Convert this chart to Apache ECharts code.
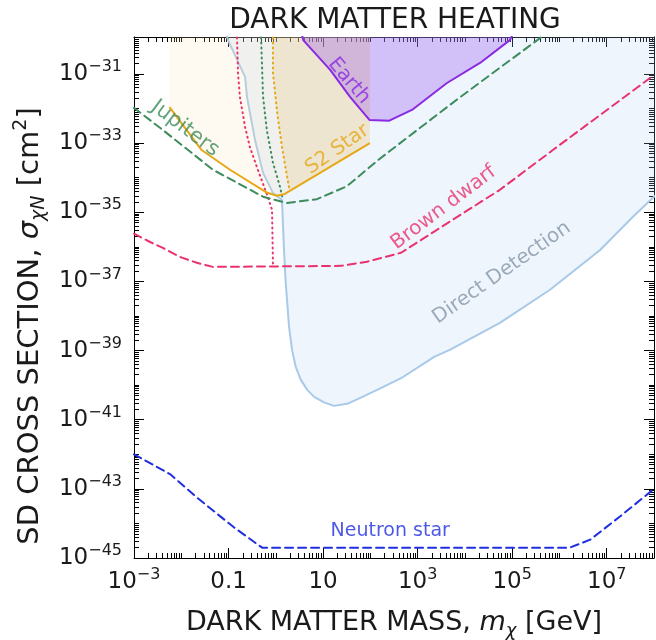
<!DOCTYPE html>
<html><head><meta charset="utf-8">
<script src="https://cdn.jsdelivr.net/npm/echarts@6/dist/echarts.min.js"></script>
<style>html,body{margin:0;padding:0;background:#fff}#c{width:656px;height:640px}</style>
</head><body><div id="c"></div>
<script>
// All values are log10(mass / GeV) and log10(sigma / cm^2)
const neutronStarLogM = [-3, -2.22, -1.67, -0.88, -0.29, 6.22, 6.65, 7.28, 8.0];
const neutronStarLogS = [-42.0, -42.59, -43.25, -44.12, -44.70, -44.70, -44.47, -43.80, -43.0];

const brownDwarfLogM = [-3, -2.66, -2.39, -2.03, -1.67, -1.33, 1.38, 1.93, 2.65, 3.68, 4.74, 5.86, 8.0];
const brownDwarfLogS = [-35.62, -35.86, -36.03, -36.29, -36.46, -36.58, -36.55, -36.43, -36.17, -35.27, -34.35, -33.2, -31.03];

const jupitersLogM = [-3, -2.39, -1.33, -0.27, 0.24, 0.87, 1.5, 2.2, 3.85, 5.6, 5.75];
const jupitersLogS = [-31.98, -32.62, -33.77, -34.55, -34.73, -34.62, -34.25, -33.45, -31.72, -29.95, -29.8];

const s2LineLogM = [-2.25, -1.57, -0.97, -0.19, 0.02, 0.19, 1.99];
const s2LineLogS = [-31.96, -33.20, -33.77, -34.43, -34.52, -34.47, -33.0];

const s2RegionLogM = [-0.065, -0.06, 0.03, 0.13, 0.24, 0.28, 1.99];
const s2RegionLogS = [-29.8, -30.97, -32.13, -33.11, -33.98, -34.37, -33.0];

const earthLogM = [0.55, 0.58, 1.15, 1.57, 1.90, 1.98, 2.40, 2.88, 3.62, 4.32, 4.95, 5.0];
const earthLogS = [-29.85, -30.02, -30.88, -31.66, -32.2, -32.33, -32.35, -32.04, -31.26, -30.68, -30.02, -29.9];

const directLogM = [-1.06, -1.01, -0.65, -0.61, -0.44, -0.27, -0.06, 0.13, 0.173, 0.209, 0.237, 0.279, 0.343, 0.421, 0.527, 0.66, 0.81, 1.02, 1.23, 1.51, 1.80, 2.23, 2.65, 3.35, 3.68, 4.74, 5.80, 6.86, 7.56, 8.04];
const directLogS = [-29.8, -30.02, -31.09, -31.66, -32.91, -33.86, -34.44, -34.64, -36.09, -37.04, -37.53, -38.31, -38.98, -39.47, -39.84, -40.13, -40.34, -40.50, -40.60, -40.54, -40.36, -40.08, -39.80, -39.18, -38.98, -38.20, -37.24, -36.09, -35.12, -34.5];

const pinkDotLogM = [-0.83, -0.82, -0.80, -0.76, -0.65, -0.55, -0.38, -0.17, -0.08, -0.06];
const pinkDotLogS = [-29.8, -30.02, -30.97, -31.66, -32.53, -33.11, -33.77, -34.55, -34.93, -36.55];

const greenDotLogM = [-0.315, -0.31, -0.27, -0.19, -0.06, 0.09, 0.15];
const greenDotLogS = [-29.8, -30.02, -31.66, -32.62, -33.57, -34.27, -34.64];

const orangeDotLogM = [-0.065, -0.06, -0.06, 0.03, 0.13, 0.24, 0.28];
const orangeDotLogS = [-29.8, -30.02, -30.97, -32.13, -33.11, -33.98, -34.29];

const xLabelExps = [-3, -1, 1, 3, 5, 7];
const yLabelExps = [-45, -43, -41, -39, -37, -35, -33, -31];

const X_MIN = -3, X_MAX = 8, Y_MIN = -45, Y_MAX = -29.93;
const FONT = 'DejaVu Sans';
const INK = '#1a1a1a';

function pairs(xs, ys) { return xs.map((x, i) => [x, ys[i]]); }

function minorTicks(lo, hi, majors) {
  const out = [];
  for (let n = Math.floor(lo); n <= Math.ceil(hi); n++) {
    for (let k = 1; k <= 9; k++) {
      const v = n + Math.log10(k);
      if (v <= lo + 1e-6 || v >= hi - 1e-6) continue;
      if (k === 1 && majors.indexOf(n) >= 0) continue;
      out.push(v);
    }
  }
  return out;
}
const xMinor = minorTicks(X_MIN, X_MAX, xLabelExps);
const yMinor = minorTicks(Y_MIN, Y_MAX, yLabelExps);

const rich = {
  b: { fontSize: 23, lineHeight: 30, fontFamily: FONT, color: INK },
  s: { fontSize: 16, lineHeight: 16, verticalAlign: 'top', fontFamily: FONT, color: INK }
};
function expLabel(v) {
  const n = Math.round(v);
  if (n === -1) return '{b|0.1}';
  if (n === 1) return '{b|10}';
  return '{b|10}{s|' + (n < 0 ? '\u2212' + (-n) : n) + '}';
}

function xAx(pos, major, labels) {
  return {
    type: 'value', position: pos, min: X_MIN, max: X_MAX,
    axisLine: { show: major, onZero: false, lineStyle: { color: '#000', width: 1 } },
    axisTick: { show: true, inside: true, length: major ? 10 : 5, customValues: major ? xLabelExps : xMinor, lineStyle: { color: '#000', width: 1 } },
    axisLabel: labels ? { show: true, customValues: xLabelExps, formatter: expLabel, rich: rich, margin: 9 } : { show: false },
    splitLine: { show: false }
  };
}
function yAx(pos, major, labels) {
  return {
    type: 'value', position: pos, min: Y_MIN, max: Y_MAX,
    axisLine: { show: major, onZero: false, lineStyle: { color: '#000', width: 1 } },
    axisTick: { show: true, inside: true, length: major ? 10 : 5, customValues: major ? yLabelExps : yMinor, lineStyle: { color: '#000', width: 1 } },
    axisLabel: labels ? { show: true, customValues: yLabelExps, formatter: expLabel, rich: rich, margin: 12 } : { show: false },
    splitLine: { show: false }
  };
}

function nameRich(size) {
  return {
    n: { fontSize: size, fontFamily: FONT, color: INK },
    i: { fontSize: size, fontStyle: 'italic', fontFamily: FONT, color: INK },
    sub: { fontSize: Math.round(size * 0.66), fontStyle: 'italic', verticalAlign: 'bottom', lineHeight: size + 8, fontFamily: FONT, color: INK },
    sup: { fontSize: Math.round(size * 0.66), verticalAlign: 'top', lineHeight: size + 4, fontFamily: FONT, color: INK }
  };
}

const xAxes = [xAx('bottom', true, true), xAx('top', true, false), xAx('bottom', false, false), xAx('top', false, false)];
xAxes[0].name = 'DARK MATTER MASS, {i|m}{sub|\u03c7} [GeV]';
xAxes[0].nameLocation = 'middle';
xAxes[0].nameGap = 47;
xAxes[0].nameTextStyle = { fontSize: 27, fontFamily: FONT, color: INK, rich: nameRich(27) };

const yAxes = [yAx('left', true, true), yAx('right', true, false), yAx('left', false, false), yAx('right', false, false)];

function lineSeries(name, xs, ys, color, type, width, extra) {
  return Object.assign({
    name: name, type: 'line', data: pairs(xs, ys), symbol: 'none', showSymbol: false, silent: true,
    clip: true, lineStyle: { color: color, width: width, type: type, cap: type === 'solid' ? 'butt' : 'round' }
  }, extra || {});
}

const C = { green: '#3d8c5c', orange: '#e6a817', pink: '#e8336f', blue: '#1f2fe0', purple: '#8a2be2', dd: '#a9c9e9', ddText: '#8596a8' };

const textLabels = [
  { t: 'Jupiters', x: -1.92, y: -32.58, r: -37, c: C.green, s: 21 },
  { t: 'S2 Star', x: 1.30, y: -33.18, r: 35, c: C.orange, s: 20 },
  { t: 'Earth', x: 1.55, y: -31.20, r: -50, c: C.purple, s: 20 },
  { t: 'Brown dwarf', x: 3.55, y: -34.87, r: 37, c: C.pink, s: 20 },
  { t: 'Direct Detection', x: 4.78, y: -36.75, r: 35, c: C.ddText, s: 20 },
  { t: 'Neutron star', x: 2.42, y: -44.23, r: 0, c: C.blue, s: 19 }
];

const series = [
  lineSeries('Direct detection region', directLogM, directLogS, C.dd, 'solid', 2,
    { areaStyle: { origin: 'end', color: 'rgba(175,205,240,0.28)' }, z: 1 }),
  lineSeries('Jupiters region', s2LineLogM, s2LineLogS, C.orange, 'solid', 0,
    { areaStyle: { origin: 'end', color: 'rgba(250,225,170,0.24)' }, lineStyle: { width: 0, opacity: 0 }, z: 2 }),
  lineSeries('S2 region', s2RegionLogM, s2RegionLogS, C.orange, 'solid', 0,
    { areaStyle: { origin: 'end', color: 'rgba(228,190,105,0.32)' }, lineStyle: { width: 0, opacity: 0 }, z: 3 }),
  lineSeries('Earth', earthLogM, earthLogS, C.purple, 'solid', 2,
    { areaStyle: { origin: 'end', color: 'rgba(152,90,240,0.48)' }, z: 4 }),
  lineSeries('Pink dotted', pinkDotLogM, pinkDotLogS, C.pink, [1, 4], 2, { z: 5 }),
  lineSeries('Green dotted', greenDotLogM, greenDotLogS, C.green, [1, 4], 2, { z: 5 }),
  lineSeries('Orange dotted', orangeDotLogM, orangeDotLogS, C.orange, [1, 4], 2, { z: 5 }),
  lineSeries('S2 Star', s2LineLogM, s2LineLogS, C.orange, 'solid', 2, { z: 6 }),
  lineSeries('Jupiters', jupitersLogM, jupitersLogS, C.green, [8, 5], 2, { z: 6 }),
  lineSeries('Brown dwarf', brownDwarfLogM, brownDwarfLogS, C.pink, [8, 5], 2, { z: 6 }),
  lineSeries('Neutron star', neutronStarLogM, neutronStarLogS, C.blue, [8, 5], 2, { z: 6 })
];
textLabels.forEach(l => {
  series.push({
    type: 'scatter', data: [[l.x, l.y]], symbolSize: 0.1, silent: true, z: 10,
    itemStyle: { color: 'transparent' },
    label: { show: true, position: 'inside', formatter: l.t, rotate: l.r, color: l.c, fontSize: l.s, fontFamily: FONT }
  });
});

const chart = echarts.init(document.getElementById('c'), null, { renderer: 'canvas' });
chart.setOption({
  animation: false,
  backgroundColor: '#fff',
  grid: { left: 134, right: 2, top: 37, bottom: 82, containLabel: false, outerBoundsMode: 'none' },
  xAxis: xAxes,
  yAxis: yAxes,
  graphic: [
    { type: 'text', x: 395, y: 21, style: { text: 'DARK MATTER HEATING', align: 'center', verticalAlign: 'middle', fontSize: 28, fontWeight: 'normal', fontFamily: FONT, fill: INK } },
    { type: 'text', x: 30, y: 326, rotation: Math.PI / 2,
      style: { text: '{n|SD CROSS SECTION, }{i|\u03c3}{sub|\u03c7N}{n| [cm}{sup|2}{n|]}', align: 'center', verticalAlign: 'middle', rich: nameRich(29), fontSize: 29, fontFamily: FONT, fill: INK } }
  ],
  series: series
});
</script></body></html>
